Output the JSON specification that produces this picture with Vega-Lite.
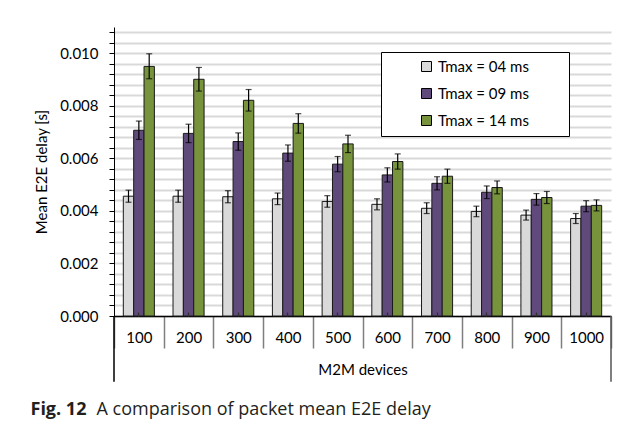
{
  "$schema": "https://vega.github.io/schema/vega-lite/v6.json",
  "width": 497,
  "height": 289,
  "autosize": {"type": "none"},
  "padding": {"left": 114, "top": 27, "right": 26, "bottom": 113},
  "background": "white",
  "config": {
    "view": {"stroke": null},
    "font": "Lato",
    "axis": {"labelFont": "Lato", "titleFont": "Lato", "labelColor": "black", "titleColor": "black", "titleFontWeight": "normal"}
  },
  "datasets": {
    "bars": [
      {"dev": 100, "series": "Tmax = 04 ms", "value": 0.00456, "lo": 0.00433, "hi": 0.00479},
      {"dev": 100, "series": "Tmax = 09 ms", "value": 0.00707, "lo": 0.00672, "hi": 0.00742},
      {"dev": 100, "series": "Tmax = 14 ms", "value": 0.00950, "lo": 0.00903, "hi": 0.00998},
      {"dev": 200, "series": "Tmax = 04 ms", "value": 0.00456, "lo": 0.00433, "hi": 0.00479},
      {"dev": 200, "series": "Tmax = 09 ms", "value": 0.00695, "lo": 0.00660, "hi": 0.00730},
      {"dev": 200, "series": "Tmax = 14 ms", "value": 0.00901, "lo": 0.00856, "hi": 0.00946},
      {"dev": 300, "series": "Tmax = 04 ms", "value": 0.00454, "lo": 0.00431, "hi": 0.00477},
      {"dev": 300, "series": "Tmax = 09 ms", "value": 0.00664, "lo": 0.00631, "hi": 0.00697},
      {"dev": 300, "series": "Tmax = 14 ms", "value": 0.00821, "lo": 0.00780, "hi": 0.00862},
      {"dev": 400, "series": "Tmax = 04 ms", "value": 0.00446, "lo": 0.00424, "hi": 0.00468},
      {"dev": 400, "series": "Tmax = 09 ms", "value": 0.00620, "lo": 0.00589, "hi": 0.00651},
      {"dev": 400, "series": "Tmax = 14 ms", "value": 0.00733, "lo": 0.00696, "hi": 0.00770},
      {"dev": 500, "series": "Tmax = 04 ms", "value": 0.00436, "lo": 0.00414, "hi": 0.00458},
      {"dev": 500, "series": "Tmax = 09 ms", "value": 0.00578, "lo": 0.00549, "hi": 0.00607},
      {"dev": 500, "series": "Tmax = 14 ms", "value": 0.00655, "lo": 0.00622, "hi": 0.00688},
      {"dev": 600, "series": "Tmax = 04 ms", "value": 0.00425, "lo": 0.00404, "hi": 0.00446},
      {"dev": 600, "series": "Tmax = 09 ms", "value": 0.00537, "lo": 0.00510, "hi": 0.00564},
      {"dev": 600, "series": "Tmax = 14 ms", "value": 0.00588, "lo": 0.00559, "hi": 0.00617},
      {"dev": 700, "series": "Tmax = 04 ms", "value": 0.00410, "lo": 0.00390, "hi": 0.00431},
      {"dev": 700, "series": "Tmax = 09 ms", "value": 0.00505, "lo": 0.00480, "hi": 0.00530},
      {"dev": 700, "series": "Tmax = 14 ms", "value": 0.00532, "lo": 0.00505, "hi": 0.00559},
      {"dev": 800, "series": "Tmax = 04 ms", "value": 0.00398, "lo": 0.00378, "hi": 0.00418},
      {"dev": 800, "series": "Tmax = 09 ms", "value": 0.00471, "lo": 0.00447, "hi": 0.00495},
      {"dev": 800, "series": "Tmax = 14 ms", "value": 0.00489, "lo": 0.00465, "hi": 0.00514},
      {"dev": 900, "series": "Tmax = 04 ms", "value": 0.00384, "lo": 0.00365, "hi": 0.00403},
      {"dev": 900, "series": "Tmax = 09 ms", "value": 0.00444, "lo": 0.00422, "hi": 0.00466},
      {"dev": 900, "series": "Tmax = 14 ms", "value": 0.00451, "lo": 0.00428, "hi": 0.00474},
      {"dev": 1000, "series": "Tmax = 04 ms", "value": 0.00371, "lo": 0.00352, "hi": 0.00390},
      {"dev": 1000, "series": "Tmax = 09 ms", "value": 0.00418, "lo": 0.00397, "hi": 0.00439},
      {"dev": 1000, "series": "Tmax = 14 ms", "value": 0.00421, "lo": 0.00400, "hi": 0.00442}
    ]
  },
  "layer": [
    {
      "data": {"name": "bars"},
      "encoding": {
        "x": {
          "field": "dev", "type": "ordinal",
          "scale": {"paddingInner": 0, "paddingOuter": 0},
          "axis": {
            "orient": "bottom",
            "title": "M2M devices",
            "tickBand": "extent", "tickSize": 32, "tickColor": "#7f7f7f", "tickWidth": 1.5,
            "domainColor": "black", "domainWidth": 1.5,
            "labelAngle": 0, "labelFontSize": 15, "labelPadding": -18,
            "titleFontSize": 15, "titlePadding": 14, "grid": false
          }
        },
        "xOffset": {"field": "series", "type": "nominal", "scale": {"paddingOuter": 0.9, "paddingInner": 0}}
      },
      "layer": [
        {
          "mark": {"type": "bar", "stroke": "#1a1a1a", "strokeWidth": 1},
          "encoding": {
            "y": {
              "field": "value", "type": "quantitative",
              "scale": {"domain": [0, 0.011], "nice": false, "zero": true},
              "title": "Mean E2E delay [s]",
              "axis": {
                "values": [0, 0.0004, 0.0008, 0.0012, 0.0016, 0.002, 0.0024, 0.0028, 0.0032, 0.0036, 0.004, 0.0044, 0.0048, 0.0052, 0.0056, 0.006, 0.0064, 0.0068, 0.0072, 0.0076, 0.008, 0.0084, 0.0088, 0.0092, 0.0096, 0.01, 0.0104, 0.0108],
                "tickCount": 40,
                "labelExpr": "round(datum.value * 10000) % 20 == 0 ? format(datum.value, '.3f') : ''",
                "labelOverlap": false,
                "grid": true, "gridColor": "#d9d9d9", "gridWidth": 2,
                "tickSize": 5, "tickColor": "black", "domainColor": "black",
                "labelFontSize": 15, "labelPadding": 11,
                "titleFontSize": 15, "titlePadding": 10
              }
            },
            "color": {
              "field": "series", "type": "nominal",
              "scale": {"range": ["#d9d9d9", "#604a7b", "#77933c"]},
              "legend": {
                "orient": "none", "legendX": 267, "legendY": 25, "title": null,
                "fillColor": "white", "strokeColor": "black", "padding": 7,
                "symbolType": "square", "symbolSize": 100, "symbolStrokeColor": "black", "symbolStrokeWidth": 1,
                "symbolOffset": 31, "labelOffset": 4,
                "labelFont": "Lato", "labelFontSize": 15, "labelColor": "black", "rowPadding": 11,
                "labelExpr": "datum.label + '\u2800\u2800\u2800'"
              }
            }
          }
        },
        {
          "mark": {"type": "rule", "color": "black", "strokeWidth": 1.2},
          "encoding": {
            "y": {"field": "lo", "type": "quantitative", "scale": {"domain": [0, 0.011], "nice": false}},
            "y2": {"field": "hi"}
          }
        },
        {
          "mark": {"type": "tick", "color": "black", "size": 6, "thickness": 1.2},
          "encoding": {"y": {"field": "lo", "type": "quantitative", "scale": {"domain": [0, 0.011], "nice": false}}}
        },
        {
          "mark": {"type": "tick", "color": "black", "size": 6, "thickness": 1.2},
          "encoding": {"y": {"field": "hi", "type": "quantitative", "scale": {"domain": [0, 0.011], "nice": false}}}
        }
      ]
    },
    {
      "data": {"values": [{}]},
      "mark": {"type": "rule", "color": "black", "strokeWidth": 1.5},
      "encoding": {
        "x": {
          "datum": 100, "type": "ordinal", "bandPosition": 0,
          "axis": {
            "orient": "bottom", "zindex": 2,
            "title": "Fig. 12", "domain": false, "ticks": true, "tickSize": -4, "tickColor": "#303030", "tickWidth": 1.2,
            "labels": false, "grid": false,
            "titleFont": "Open Sans", "titleFontWeight": "bold", "titleFontSize": 18, "titleColor": "#231f20",
            "titleX": -84, "titleY": 98, "titleAlign": "left", "titleAnchor": "start", "titleBaseline": "alphabetic"
          }
        },
        "y": {"datum": 0, "type": "quantitative", "scale": {"domain": [0, 0.011], "nice": false}, "title": "Mean E2E delay [s]"},
        "y2": {"datum": -0.0025}
      }
    },
    {
      "data": {"values": [{}]},
      "mark": {"type": "rule", "color": "#555555", "strokeWidth": 1.5},
      "encoding": {
        "x": {
          "datum": 1000, "type": "ordinal", "bandPosition": 1,
          "axis": {
            "orient": "bottom",
            "title": "A comparison of packet mean E2E delay", "domain": false, "ticks": false, "labels": false, "grid": false,
            "titleFont": "Open Sans", "titleFontWeight": "normal", "titleFontSize": 18, "titleColor": "#231f20",
            "titleX": -18, "titleY": 98, "titleAlign": "left", "titleAnchor": "start", "titleBaseline": "alphabetic"
          }
        },
        "y": {"datum": 0, "type": "quantitative", "scale": {"domain": [0, 0.011], "nice": false}, "title": "Mean E2E delay [s]"},
        "y2": {"datum": -0.0025}
      }
    }
  ],
  "resolve": {"axis": {"x": "independent"}}
}
